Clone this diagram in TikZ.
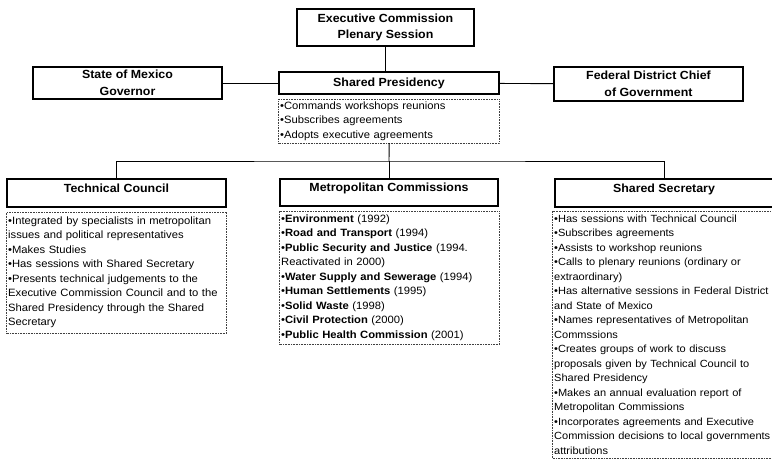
\documentclass[tikz,border=0pt]{standalone}
\usepackage{fontspec}
\setmainfont{Liberation Sans}
\newfontfamily\headfont[FakeStretch=1.05]{Liberation Sans}
\newfontfamily\notefont[FakeStretch=1.06]{Liberation Sans}
\usetikzlibrary{positioning}
\tikzset{
  link/.style={draw=black, line width=0.9pt},
  headbox/.style={draw=black, line width=1.2pt, align=center, inner sep=1pt,
                  font=\headfont\fontsize{11.8}{16.5}\selectfont\bfseries},
  lowhead/.style={headbox, text height=9pt, text depth=11pt},
  notebox/.style={draw=black!75, densely dotted, line width=0.6pt, align=left,
                  inner xsep=1.5pt, inner ysep=2pt,
                  font=\notefont\fontsize{10.6}{14.5}\selectfont}
}

\begin{document}
\begin{tikzpicture}[x=1pt, y=1pt]
  \useasboundingbox (0,0) rectangle (772,-459);

  % top level
  \node[headbox, minimum width=177pt, minimum height=37pt] (exec) at (385.5,-27.5) {Executive Commission\\Plenary Session};
  \node[headbox, minimum width=220pt, minimum height=22pt] (pres) at (389,-83) {Shared Presidency};
  \node[headbox, minimum width=189pt, minimum height=32pt] (mexico) at (127.5,-83) {State of Mexico\\Governor};
  \node[headbox, minimum width=189pt, minimum height=34pt] (federal) at (648.5,-84) {Federal District Chief\\of Government};
  \node[notebox, text width=218pt, minimum height=44pt, below=4pt of pres.south west, anchor=north west] (presnotes)
    {•Commands workshops reunions\\
     •Subscribes agreements\\
     •Adopts executive agreements};

  % second level
  \node[lowhead, minimum width=219pt, minimum height=28pt] (council) at (116.5,-193) {Technical Council};
  \node[lowhead, minimum width=218pt, minimum height=27pt] (metro) at (389,-192.5) {Metropolitan Commissions};
  \node[lowhead, minimum width=218pt, minimum height=28pt] (secretary) at (664,-193) {Shared Secretary};

  \node[notebox, text width=217pt, minimum height=121pt, below=4pt of council.south west, anchor=north west] (councilnotes)
    {•Integrated by specialists in metropolitan\\
     issues and political representatives\\
     •Makes Studies\\
     •Has sessions with Shared Secretary\\
     •Presents technical judgements to the\\
     Executive Commission Council and to the\\
     Shared Presidency through the Shared\\
     Secretary};
  \node[notebox, text width=217pt, minimum height=133pt, below=4pt of metro.south west, anchor=north west] (metronotes)
    {•\textbf{Environment} (1992)\\
     •\textbf{Road and Transport} (1994)\\
     •\textbf{Public Security and Justice} (1994.\\
     Reactivated in 2000)\\
     •\textbf{Water Supply and Sewerage} (1994)\\
     •\textbf{Human Settlements} (1995)\\
     •\textbf{Solid Waste} (1998)\\
     •\textbf{Civil Protection} (2000)\\
     •\textbf{Public Health Commission} (2001)};
  \node[notebox, font=\notefont\fontsize{10.4}{14.5}\selectfont, text width=240pt, minimum height=247pt,
        below=3pt of secretary.south west, anchor=north west, xshift=-2pt] (secretarynotes)
    {•Has sessions with Technical Council\\
     •Subscribes agreements\\
     •Assists to workshop reunions\\
     •Calls to plenary reunions (ordinary or\\
     extraordinary)\\
     •Has alternative sessions in Federal District\\
     and State of Mexico\\
     •Names representatives of Metropolitan\\
     Commssions\\
     •Creates groups of work to discuss\\
     proposals given by Technical Council to\\
     Shared Presidency\\
     •Makes an annual evaluation report of\\
     Metropolitan Commissions\\
     •Incorporates agreements and Executive\\
     Commission decisions to local governments\\
     attributions};

  % connectors
  \coordinate (bus) at (389,-161);
  \draw[link] (exec.south) -- (exec.south |- pres.north);
  \draw[link] (mexico) -- (pres);
  \draw[link] (pres) -- (federal);
  \draw[link] (presnotes.south) -- (bus);
  \draw[link] (council.north) |- (bus) -| (secretary.north);
  \draw[link] (bus) -- (metro.north);
\end{tikzpicture}
\end{document}
